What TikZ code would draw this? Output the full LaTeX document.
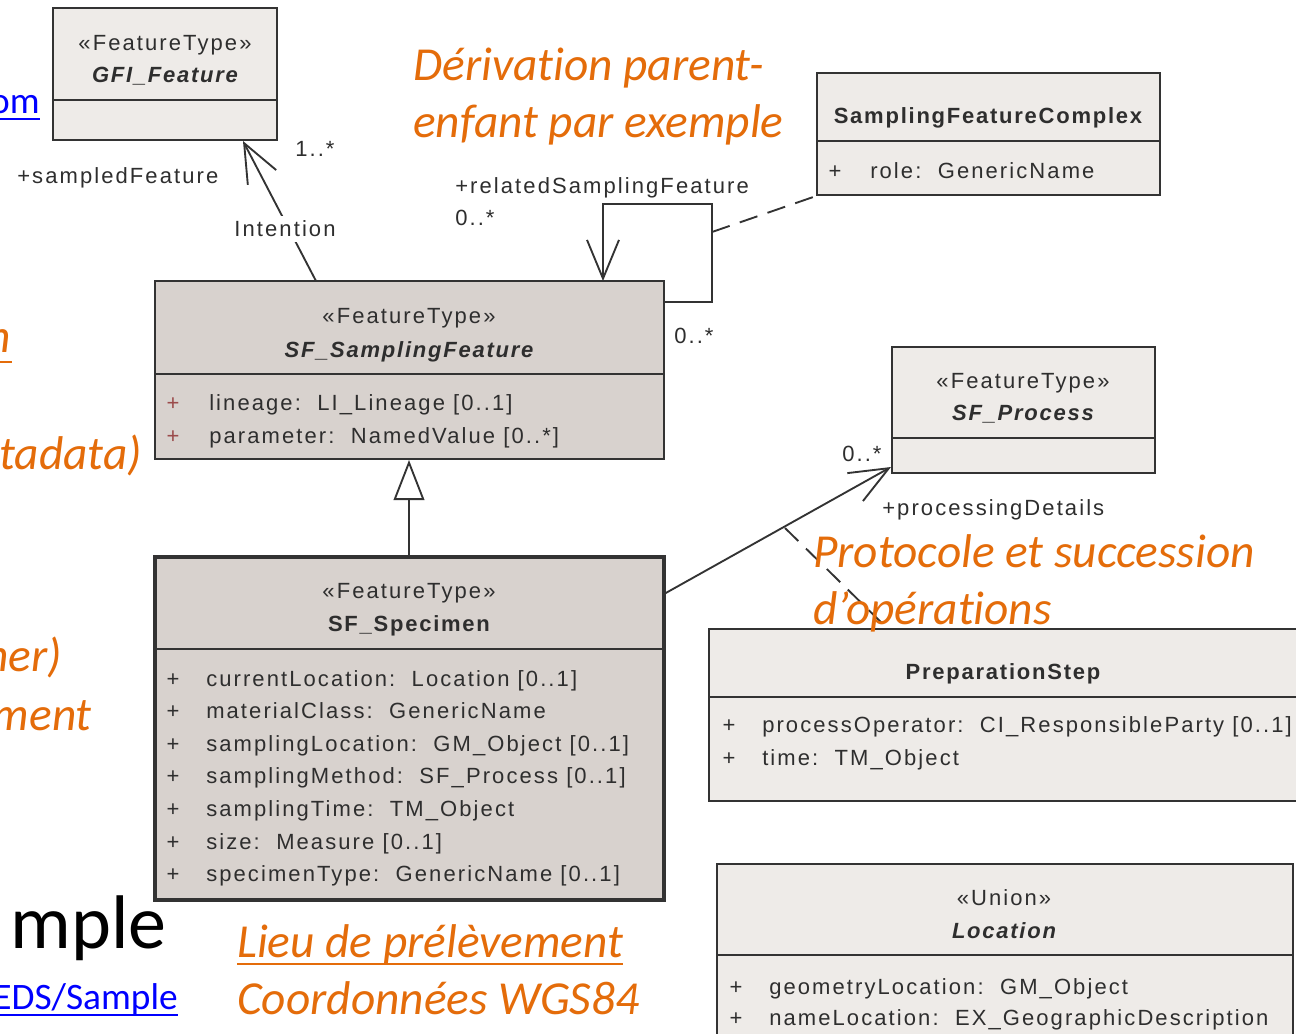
\documentclass[tikz,border=0pt]{standalone}
\usepackage{fontspec}
\setmainfont{Liberation Sans}
\newfontfamily\umlfont[LetterSpace=9.5]{Liberation Sans}
\newfontfamily\umlbold[LetterSpace=8]{Liberation Sans}
\newfontfamily\calfont[Ligatures=NoCommon]{Carlito}
\usetikzlibrary{arrows.meta,fit}
\definecolor{orangeT}{HTML}{E46C0A}
\definecolor{blueT}{HTML}{0000FF}
\definecolor{boxL}{HTML}{EEEBE8}
\definecolor{boxD}{HTML}{D8D2CE}
\definecolor{lineC}{HTML}{333333}
\definecolor{textC}{HTML}{2E2E2E}
\definecolor{plusR}{HTML}{9B4B4B}
\tikzset{
  umlbox/.style={draw=lineC, line width=1.6pt, inner sep=0pt},
  lightbox/.style={umlbox, fill=boxL},
  darkbox/.style={umlbox, fill=boxD},
  divider/.style={draw=lineC, line width=1.6pt},
  stereo/.style={font={\umlfont\fontsize{16.5pt}{19pt}\selectfont}, text=textC, inner sep=0pt, anchor=base},
  cnamei/.style={font={\umlbold\fontsize{16.5pt}{19pt}\selectfont\bfseries\itshape}, text=textC, inner sep=0pt, anchor=base},
  cnameb/.style={font={\umlbold\fontsize{16.5pt}{19pt}\selectfont\bfseries}, text=textC, inner sep=0pt, anchor=base},
  attr/.style={font={\umlfont\fontsize{16.5pt}{19pt}\selectfont}, text=textC, inner sep=0pt, anchor=base west},
  plus/.style={font={\umlfont\fontsize{16.5pt}{19pt}\selectfont}, text=textC, inner sep=0pt, anchor=base},
  lbl/.style={font={\umlfont\fontsize{16.5pt}{19pt}\selectfont}, text=textC, inner sep=0pt, anchor=base west},
  otext/.style={font={\calfont\itshape\fontsize{35.5pt}{42pt}\selectfont}, text=orangeT, inner sep=0pt, anchor=base west},
  otextr/.style={otext, anchor=base east},
  btext/.style={font={\calfont\fontsize{28pt}{33pt}\selectfont}, text=blueT, inner sep=0pt, anchor=base east},
  oline/.style={draw=orangeT, line width=2.2pt},
  bline/.style={draw=blueT, line width=1.6pt},
  assoc/.style={draw=lineC, line width=1.4pt},
  barb/.style={assoc, -{Straight Barb[length=29pt, width=24pt, line width=1.4pt]}},
  gen/.style={assoc, -{Triangle[length=30pt, width=23pt, fill=white, line width=1.4pt]}},
  dashline/.style={draw=lineC, line width=1.4pt, dash pattern=on 14pt off 8pt}
}
\begin{document}
\begin{tikzpicture}[x=0.75pt, y=-0.75pt]
\clip (0,0) rectangle (1296,1033);
\fill[white] (0,0) rectangle (1296,1033);

% ---------- GFI_Feature
\node[lightbox, fit={(53,8) (277,140)}] (gfi) {};
\draw[divider] (53,100) -- (277,100);
\node[stereo] (gfiS) at (165,50) {«FeatureType»};
\node[cnamei] (gfiN) at (165,82) {GFI\_Feature};

% ---------- SF_SamplingFeature
\node[darkbox, fit={(155,281) (664,459)}] (sf) {};
\draw[divider] (155,374) -- (664,374);
\node[stereo] (sfS) at (409,323) {«FeatureType»};
\node[cnamei] (sfN) at (409,357) {SF\_SamplingFeature};
\node[plus, text=plusR] (sfP1) at (173,410) {+};
\node[attr] (sfA1) at (209,410) {lineage:\ \ LI\_Lineage [0..1]};
\node[plus, text=plusR] (sfP2) at (173,443) {+};
\node[attr] (sfA2) at (209,443) {parameter:\ \ NamedValue [0..*]};

% ---------- SF_Specimen
\node[darkbox, line width=2.3pt, fit={(155,557) (664,900)}] (spec) {};
\draw[divider] (155,649) -- (664,649);
\node[stereo] (specS) at (409,598) {«FeatureType»};
\node[cnameb] (specN) at (409,631) {SF\_Specimen};
\node[plus] (spP1) at (173,686) {+};
\node[attr] (spA1) at (206,686) {currentLocation:\ \ Location [0..1]};
\node[plus] (spP2) at (173,718) {+};
\node[attr] (spA2) at (206,718) {materialClass:\ \ GenericName};
\node[plus] (spP3) at (173,751) {+};
\node[attr] (spA3) at (206,751) {samplingLocation:\ \ GM\_Object [0..1]};
\node[plus] (spP4) at (173,783) {+};
\node[attr] (spA4) at (206,783) {samplingMethod:\ \ SF\_Process [0..1]};
\node[plus] (spP5) at (173,816) {+};
\node[attr] (spA5) at (206,816) {samplingTime:\ \ TM\_Object};
\node[plus] (spP6) at (173,849) {+};
\node[attr] (spA6) at (206,849) {size:\ \ Measure [0..1]};
\node[plus] (spP7) at (173,881) {+};
\node[attr] (spA7) at (206,881) {specimenType:\ \ GenericName [0..1]};

% ---------- SamplingFeatureComplex
\node[lightbox, fit={(817,73) (1160,195)}] (sfc) {};
\draw[divider] (817,141) -- (1160,141);
\node[cnameb] (sfcN) at (988,123) {SamplingFeatureComplex};
\node[plus] (sfcP) at (835,178) {+};
\node[attr] (sfcA) at (870,178) {role:\ \ GenericName};

% ---------- SF_Process
\node[lightbox, fit={(892,347) (1155,473)}] (proc) {};
\draw[divider] (892,438) -- (1155,438);
\node[stereo] (procS) at (1023,388) {«FeatureType»};
\node[cnamei] (procN) at (1023,420) {SF\_Process};

% ---------- PreparationStep
\node[lightbox, line width=2pt, fit={(709,629) (1310,801)}] (prep) {};
\draw[divider] (709,697) -- (1310,697);
\node[cnameb] (prepN) at (1003,679) {PreparationStep};
\node[plus] (prP1) at (729,732) {+};
\node[attr] (prA1) at (762,732) {processOperator:\ \ CI\_ResponsibleParty [0..1]};
\node[plus] (prP2) at (729,765) {+};
\node[attr] (prA2) at (762,765) {time:\ \ TM\_Object};

% ---------- Location
\node[lightbox, fit={(717,864) (1293,1045)}] (loc) {};
\draw[divider] (717,955) -- (1293,955);
\node[stereo] (locS) at (1004,905) {«Union»};
\node[cnamei] (locN) at (1004,938) {Location};
\node[plus] (loP1) at (736,994) {+};
\node[attr] (loA1) at (769,994) {geometryLocation:\ \ GM\_Object};
\node[plus] (loP2) at (736,1025) {+};
\node[attr] (loA2) at (769,1025) {nameLocation:\ \ EX\_GeographicDescription};

% ---------- connectors
\coordinate (iFrom) at (316,281);
\coordinate (iTo) at (243,141);
\draw[barb] (iFrom) -- (iTo);
\node[stereo, fill=white, inner sep=4pt, anchor=center] (intent) at (285,229) {Intention};

\coordinate (rs1) at (664,302);
\coordinate (rs2) at (603,281);
\draw[barb] (rs1) -- (712,302) -- (712,204) -- (603,204) -- (rs2);
\coordinate (dc1) at (712,232);
\draw[dashline] (dc1) -- (sfc.south west);

\coordinate (gFrom) at (409,557);
\coordinate (gTo) at (409,460);
\draw[gen] (gFrom) -- (gTo);

\coordinate (pFrom) at (664,594);
\coordinate (pTo) at (891,467);
\draw[barb] (pFrom) -- (pTo);
\coordinate (dp1) at (785,528);
\coordinate (dp2) at (888,629);
\draw[dashline] (dp1) -- (dp2);

% ---------- connector labels
\node[lbl] (lSampled) at (17,183) {+sampledFeature};
\node[lbl] (lMult1) at (295,156) {1..*};
\node[lbl] (lRelated) at (455,193) {+relatedSamplingFeature};
\node[lbl] (lMult2) at (455,225) {0..*};
\node[lbl] (lMult3) at (674,343) {0..*};
\node[lbl] (lMult4) at (842,461) {0..*};
\node[lbl] (lProc) at (882,515) {+processingDetails};

% ---------- orange annotations
\node[otext] (oDeriv1) at (413,80) {Dérivation parent-};
\node[otext] (oDeriv2) at (413,137) {enfant par exemple};
\node[otext] (oProt1) at (813,567) {Protocole et succession};
\node[otext] (oProt2) at (813,624) {d’opérations};
\node[otext] (oLieu) at (237,957) {Lieu de prélèvement};
\draw[oline] (237,964) -- (oLieu.base east |- 0,964);
\node[otext] (oCoord) at (237,1014) {Coordonnées WGS84};
\node[otextr] (oN) at (11,352) {n};
\draw[oline] (0,362) -- (12,362);
\node[otextr] (oMeta) at (142,469) {tadata)};
\node[otextr] (oNer) at (62,671) {ner)};
\node[otextr] (oMent) at (92,730) {ment};

% ---------- left edge texts
\node[btext] (bOm) at (40,113) {om};
\draw[bline] (0,119) -- (40,119);
\node[font={\calfont\fontsize{57pt}{60pt}\selectfont}, text=black, inner sep=0pt, anchor=base east] (kMple) at (167,948) {mple};
\node[btext] (bEds) at (178,1009) {EDS/Sample};
\draw[bline] (0,1015) -- (178,1015);
\end{tikzpicture}
\end{document}
